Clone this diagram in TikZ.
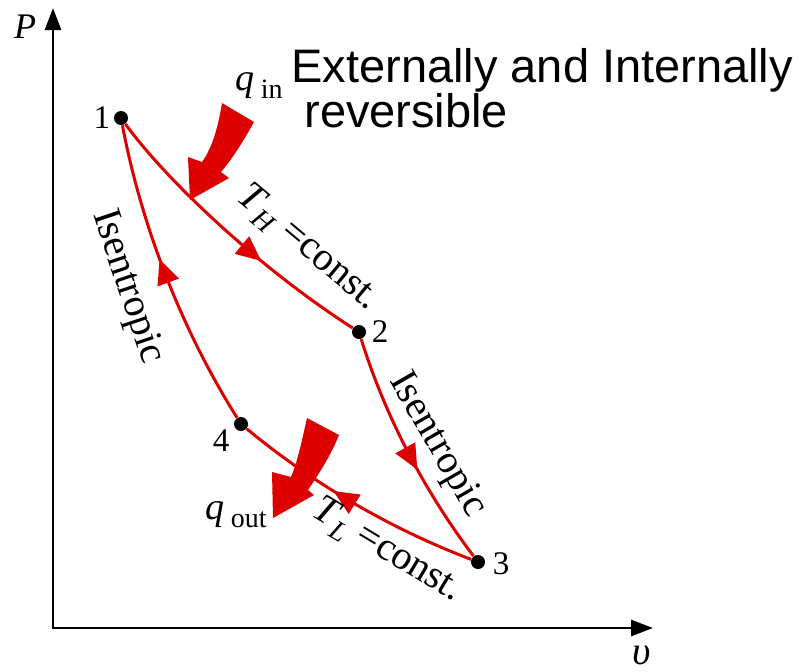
\documentclass[tikz,border=0pt]{standalone}
\usepackage{fontspec}
\setmainfont{Liberation Serif}
\newfontfamily\titlefont{Liberation Sans}
\usetikzlibrary{arrows.meta, positioning, decorations.markings}
\definecolor{cyclered}{RGB}{221,0,0}
\newcommand{\lowsub}[1]{\raisebox{-4pt}{\fontsize{14}{14}\selectfont #1}}

\begin{document}
\begin{tikzpicture}[
    x=0.5pt, y=-0.5pt,
    axis/.style={draw=black, line width=1.4pt, {Triangle[length=11pt,width=8pt]}-{Triangle[length=11pt,width=8pt]}},
    procline/.style={draw=cyclered, line width=1.5pt},
    midarrow/.style={postaction={decorate}, decoration={markings, mark=at position #1 with {\arrow{Triangle[length=12.5pt,width=11pt]}}}},
    statedot/.style={circle, fill=black, inner sep=0pt, minimum size=7pt},
    numlbl/.style={inner sep=0pt, font=\fontsize{16.5}{20}\selectfont},
    proclbl/.style={inner sep=0pt, font=\fontsize{20}{24}\selectfont},
    heatlbl/.style={inner sep=0pt, font=\fontsize{19}{22}\selectfont},
    titletext/.style={inner sep=0pt, anchor=base west, font=\titlefont\fontsize{23.5}{28}\selectfont},
    heatarrow/.style={fill=cyclered}
]
\useasboundingbox (0,0) rectangle (806,671);

% Axes
\coordinate (origin) at (53,628);
\coordinate (ptip) at (53,8);
\coordinate (vtip) at (653,628);
\draw[axis] (ptip) -- (origin) -- (vtip);
\node[inner sep=0pt, font=\fontsize{18}{20}\selectfont\itshape] (plbl) at (25,27) {P};
\node[inner sep=0pt, font=\fontsize{20}{24}\selectfont\itshape] (vlbl) at (642,655) {υ};

% States
\node[statedot] (s1) at (121,118) {};
\node[statedot] (s2) at (359,332) {};
\node[statedot] (s3) at (478,562) {};
\node[statedot] (s4) at (241,424) {};
\node[numlbl, left=1.5pt of s1] (n1) {1};
\node[numlbl, right=2.5pt of s2] (n2) {2};
\node[numlbl, right=3.5pt of s3, yshift=-1pt] (n3) {3};
\node[numlbl, below left=0pt and 3pt of s4] (n4) {4};

% Processes
\draw[procline, midarrow=0.63] (s1) .. controls (170,185) and (265,272) .. (s2);
\draw[procline, midarrow=0.58] (s2) .. controls (385,416) and (425,492) .. (s3);
\draw[procline, midarrow=0.59] (s3) .. controls (391,529) and (312,483) .. (s4);
\draw[procline, midarrow=0.56] (s4) .. controls (182,330) and (142,228) .. (s1);

% Process labels
\node[proclbl, rotate=-40] (thlbl) at (308,248) {\textit{T}\lowsub{\textit{H}} =const.};
\node[proclbl, rotate=-31] (tllbl) at (387,551) {\textit{T}\lowsub{\textit{L}} =const.};
\node[proclbl, rotate=-71.5] (isleft) at (127,287) {Isentropic};
\node[proclbl, rotate=-60] (isright) at (437,445) {Isentropic};

% Heat transfer
\fill[heatarrow] (222,103) .. controls (218,128) and (212,148) .. (202,162) -- (188,157) -- (190,200) -- (229,178) -- (221,172) .. controls (233,158) and (244,140) .. (254,122) -- cycle;
\node[heatlbl] (qin) at (259,86) {\textit{q}\,\lowsub{in}};
\fill[heatarrow] (307,418) .. controls (302,440) and (298,460) .. (291,477) -- (272,472) -- (273,518) -- (314,495) -- (308,490) .. controls (320,472) and (331,455) .. (339,435) -- cycle;
\node[heatlbl] (qout) at (236,515) {\textit{q}\,\lowsub{out}};

% Title
\node[titletext] (title1) at (291,82) {Externally and Internally};
\node[titletext] (title2) at (304,127) {reversible};

\end{tikzpicture}
\end{document}
